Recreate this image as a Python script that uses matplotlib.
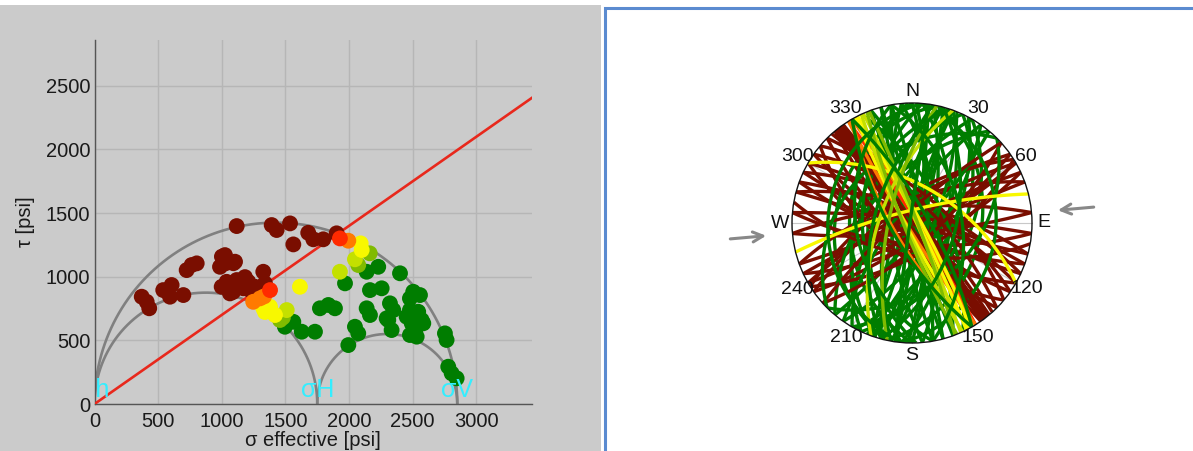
import numpy as np
import matplotlib
matplotlib.use("Agg")
import matplotlib.pyplot as plt
from matplotlib.patches import Rectangle, Circle

plt.rcParams['font.family'] = ['Liberation Sans', 'DejaVu Sans']

# ---------------- Mohr diagram data ----------------
sigma_h = 0
sigma_H = 1750
sigma_V = 2850
friction = 0.7
x_ticks = [0, 500, 1000, 1500, 2000, 2500, 3000]
y_ticks = [0, 500, 1000, 1500, 2000, 2500]

colors = {
    'darkred': '#7a0e00',
    'red': '#ff2a00',
    'orange': '#ff7a00',
    'yellow': '#f8f800',
    'yellowgreen': '#c4e000',
    'olive': '#80bb00',
    'green': '#007d00',
}

darkred_sigma = [371, 410, 430, 540, 606, 593, 698, 724, 763, 803, 986, 1025, 1104, 1117,
                 999, 1038, 1064, 1117, 1169, 1208, 1261, 1326, 1339, 1392, 1431, 1536,
                 1562, 1679, 1719, 1797, 1902, 1143, 1222, 1088, 1182, 1049, 1001, 1031, 1091]
darkred_tau = [843, 803, 752, 895, 935, 843, 856, 1052, 1092, 1105, 1078, 1170, 1118, 1398,
               921, 960, 869, 974, 909, 960, 921, 1039, 948, 1406, 1367, 1419,
               1254, 1345, 1294, 1294, 1341, 935, 895, 880, 997, 919, 1158, 1106, 1106]

red_sigma = [1928, 1379]
red_tau = [1301, 895]

orange_sigma = [1994, 1300, 1247, 1332]
orange_tau = [1283, 830, 803, 845]

yellow_sigma = [2091, 2099, 1614, 1326, 1379, 1418, 1339]
yellow_tau = [1262, 1210, 921, 752, 764, 699, 723]

yellowgreen_sigma = [2046, 1928, 1510]
yellowgreen_tau = [1137, 1039, 738]

olive_sigma = [2162, 2072, 1457, 1480]
olive_tau = [1184, 1092, 660, 680]

green_sigma = [2138, 2229, 2400, 1968, 2164, 2256, 2504, 2557, 2478, 1771, 1837, 1889,
               2138, 2164, 2321, 2347, 2478, 2543, 2452, 2308, 2046, 2072, 2334, 2492,
               2531, 2570, 2478, 2531, 1994, 1496, 1562, 1628, 1732, 2753, 2766, 2779,
               2806, 2845, 2295, 2504, 2518, 2583]
green_tau = [1039, 1078, 1027, 948, 895, 909, 882, 856, 830, 752, 778, 752,
             752, 699, 791, 738, 738, 725, 686, 660, 607, 555, 581, 634,
             607, 660, 542, 529, 463, 607, 646, 568, 568, 555, 503, 293,
             241, 202, 673, 620, 581, 634]

# ---------------- Stereonet data (strike, dip, class) ----------------
plane_strike = [142, 30, 143, 5, 320, 355, 322, 185, 318, 10, 145, 190, 324, 200, 140, 15,
                325, 180, 110, 20, 295, 195, 115, 0, 290, 350, 120, 175, 300, 25, 105, 205,
                285, 170, 125, 12, 305, 192, 60, 345, 240, 165, 65, 18, 245, 210, 55, 8,
                235, 188, 70, 28, 250, 198, 58, 35, 238, 215, 85, 40, 265, 220, 95, 340,
                275, 335, 130, 160, 310, 2, 135, 22, 315, 178, 48, 45, 228, 225, 100, 5,
                141, 321, 323, 144,
                328, 330, 148, 150, 333, 152, 331, 256, 300, 336, 200, 155, 339, 158, 192,
                185, 150, 330, 188, 15, 195, 350, 170]
plane_dip = [86, 40, 88, 55, 84, 65, 87, 50, 80, 70, 82, 65, 89, 85, 78, 80,
             85, 35, 75, 60, 70, 75, 82, 75, 80, 80, 65, 70, 75, 45, 88, 45,
             72, 80, 78, 30, 68, 25, 80, 85, 78, 85, 70, 88, 85, 60, 75, 85,
             72, 88, 88, 55, 68, 40, 62, 65, 65, 75, 80, 80, 75, 50, 70, 70,
             85, 60, 60, 88, 62, 75, 72, 70, 70, 45, 70, 35, 80, 30, 60, 20,
             84, 88, 83, 87,
             86, 84, 85, 72, 85, 84, 82, 78, 55, 86, 60, 83, 85, 82, 68,
             20, 70, 75, 88, 50, 55, 45, 40]
plane_class = ['darkred', 'green'] * 40 + ['darkred'] * 4 + [
    'red', 'orange', 'orange', 'orange', 'yellow', 'yellow', 'yellow', 'yellow', 'yellow',
    'yellowgreen', 'yellowgreen', 'yellowgreen', 'olive', 'olive', 'olive',
    'green', 'green', 'green', 'green', 'green', 'green', 'green', 'green']

compass_angles = [0, 30, 60, 90, 120, 150, 180, 210, 240, 270, 300, 330]
compass_labels = ['N', '30', '60', 'E', '120', '150', 'S', '210', '240', 'W', '300', '330']
shmax_azimuth = 85

W, H = 1193, 451
fig = plt.figure(figsize=(W / 100, H / 100), dpi=100)
fig.patch.set_facecolor('white')
fig.patches.append(Rectangle((0, 0), 601 / W, 446 / H, transform=fig.transFigure,
                             facecolor='#cbcbcb', edgecolor='none', zorder=-10))
fig.patches.append(Rectangle((605 / W, -0.2), 1.0, 1 - 8.3 / H + 0.2, transform=fig.transFigure,
                             facecolor='none', edgecolor='#5b8bd0', lw=2.2, zorder=-5))

# ---------------- Left: Mohr diagram ----------------
ax = fig.add_axes([94.5 / W, 47 / H, 437.5 / W, 364 / H])
ax.set_facecolor('#cbcbcb')
ax.set_xlim(0, 3437)
ax.set_ylim(0, 2860)
ax.set_xticks(x_ticks)
ax.set_yticks(y_ticks)
ax.grid(True, color='#b6b6b6', lw=1.0)
ax.set_axisbelow(True)
for side in ['top', 'right']:
    ax.spines[side].set_visible(False)
for side in ['left', 'bottom']:
    ax.spines[side].set_color('#555555')
    ax.spines[side].set_linewidth(1.0)
ax.tick_params(length=0, labelsize=14.5, colors='#1a1a1a', pad=3)
ax.tick_params(axis='x', pad=6)
ax.set_xlabel('σ effective [psi]', fontsize=14.5, color='#1a1a1a', labelpad=0)
ax.set_ylabel('τ [psi]', fontsize=14.5, color='#1a1a1a', labelpad=8)

theta = np.linspace(0, np.pi, 300)
for a, b in [(sigma_h, sigma_V), (sigma_h, sigma_H), (sigma_H, sigma_V)]:
    c, r = (a + b) / 2, (b - a) / 2
    ax.plot(c + r * np.cos(theta), r * np.sin(theta), color='#808080', lw=1.9, zorder=2)

xx = np.array([0, 3437])
ax.plot(xx, friction * xx, color='#e8281c', lw=1.9, zorder=3)

groups = [
    (darkred_sigma, darkred_tau, 'darkred'),
    (green_sigma, green_tau, 'green'),
    (olive_sigma, olive_tau, 'olive'),
    (yellowgreen_sigma, yellowgreen_tau, 'yellowgreen'),
    (yellow_sigma, yellow_tau, 'yellow'),
    (orange_sigma, orange_tau, 'orange'),
    (red_sigma, red_tau, 'red'),
]
for sx, ty, cl in groups:
    ax.scatter(sx, ty, s=130, color=colors[cl], edgecolors='none', zorder=4)

for lab, xv in [('σh', sigma_h), ('σH', sigma_H), ('σV', sigma_V)]:
    ax.text(xv, 15, lab, color='#33eeff', fontsize=18, ha='center', va='bottom',
            clip_on=True, zorder=5)

# ---------------- Right: stereonet ----------------
cx, cy, R = 912, 223, 120
lim = 1.55
size = 2 * lim * R
ax2 = fig.add_axes([(cx - size / 2) / W, (H - cy - size / 2) / H, size / W, size / H])
ax2.set_xlim(-lim, lim)
ax2.set_ylim(-lim, lim)
ax2.set_aspect('equal')
ax2.axis('off')


def great_circle(strike, dip, n=200):
    s = np.radians(strike)
    dd = s + np.pi / 2
    d = np.radians(dip)
    t = np.linspace(0, np.pi, n)
    sv = np.array([np.sin(s), np.cos(s), 0.0])
    dv = np.array([np.sin(dd) * np.cos(d), np.cos(dd) * np.cos(d), np.sin(d)])
    v = np.outer(np.cos(t), sv) + np.outer(np.sin(t), dv)
    plunge = np.arcsin(np.clip(v[:, 2], -1, 1))
    trend = np.arctan2(v[:, 0], v[:, 1])
    rad = np.tan(np.pi / 4 - plunge / 2)
    return rad * np.sin(trend), rad * np.cos(trend)


clip = Circle((0, 0), 1.0, transform=ax2.transData)
for ang in range(0, 180, 30):
    a = np.radians(ang)
    ax2.plot([-np.sin(a), np.sin(a)], [-np.cos(a), np.cos(a)], color='#c8c8c8', lw=0.8, zorder=1)

for st, dp, cl in zip(plane_strike, plane_dip, plane_class):
    gx, gy = great_circle(st, dp)
    ln, = ax2.plot(gx, gy, color=colors[cl], lw=2.4, zorder=2, solid_capstyle='butt')
    ln.set_clip_path(clip)

ax2.add_patch(Circle((0, 0), 1.0, facecolor='none', edgecolor='#111111', lw=1.0, zorder=3))

for ang, lab in zip(compass_angles, compass_labels):
    a = np.radians(ang)
    ax2.text(1.1 * np.sin(a), 1.1 * np.cos(a), lab, fontsize=14, ha='center', va='center',
             color='#111111')

az = np.radians(shmax_azimuth)
ux, uy = np.sin(az), np.cos(az)
for sgn in (1, -1):
    ax2.annotate('', xy=(sgn * 1.22 * ux, sgn * 1.22 * uy), xytext=(sgn * 1.52 * ux, sgn * 1.52 * uy),
                 arrowprops=dict(arrowstyle='->', color='#888888', lw=2.2,
                                 mutation_scale=18, shrinkA=0, shrinkB=0))

fig.savefig('out.png', dpi=100)
